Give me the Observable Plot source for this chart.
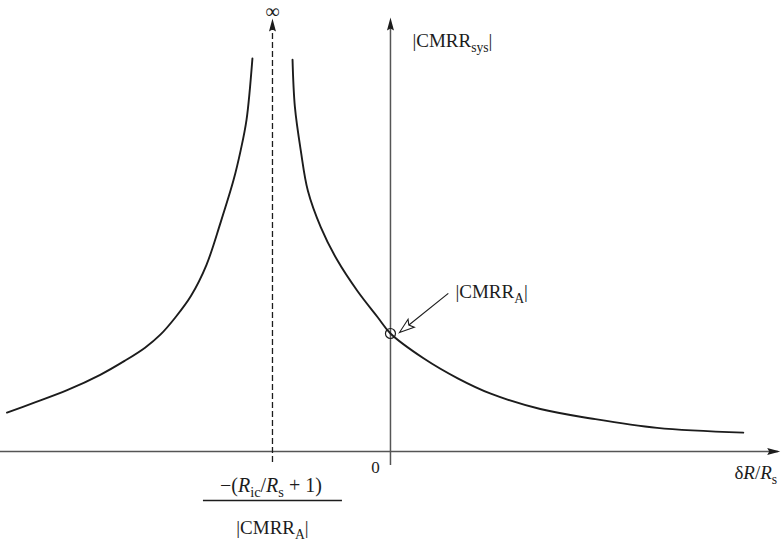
<!DOCTYPE html>
<html>
<head>
<meta charset="utf-8">
<script src="https://cdn.jsdelivr.net/npm/d3@7"></script>
<script src="https://cdn.jsdelivr.net/npm/@observablehq/plot@0.6"></script>
<style>
  html, body { margin: 0; padding: 0; background: #fff; overflow: hidden; }
</style>
</head>
<body>
<div id="chart"></div>
<script>
// Curve values: x = δR/R_s (asymptote at -1), y = |CMRR_sys| in units of |CMRR_A|
const leftX  = [-3.25, -3.03, -2.74, -2.46, -2.25, -2.08, -1.95, -1.82, -1.69, -1.56, -1.44, -1.33, -1.27, -1.22, -1.17];
const leftY  = [ 0.33,  0.41,  0.52,  0.65,  0.77,  0.88,  0.99,  1.14,  1.32,  1.58,  1.94,  2.30,  2.55,  2.81,  3.33];
const rightX = [-0.83, -0.81, -0.76, -0.70, -0.59, -0.45, -0.28, -0.11, 0.00, 0.28, 0.57, 0.85, 1.27, 1.70, 2.26, 2.99];
const rightY = [ 3.32,  2.92,  2.55,  2.21,  1.90,  1.62,  1.36,  1.14, 1.00, 0.79, 0.62, 0.49, 0.36, 0.28, 0.20, 0.16];

const asymptoteX = [-1];
const markedPoint = [{x: 0, y: 1}];

const labelInfinity = "∞";
const labelYAxis = "|CMRR{s:sys}|";
const labelPoint = "|CMRR{s:A}|";
const labelZero = "0";
const labelXAxis = "δ{i:R}/{i:R}{s:s}";
const labelNumerator = "−({i:R}{s:ic}/{i:R}{s:s} + 1)";
const labelDenominator = "|CMRR{s:A}|";

const left = leftX.map((x, i) => ({x, y: leftY[i]}));
const right = rightX.map((x, i) => ({x, y: rightY[i]}));

// narrow filled arrowhead, tip at the anchor, pointing up before rotation
const headSolid = {draw(ctx) { ctx.moveTo(0, 0); ctx.lineTo(-3.5, 13); ctx.lineTo(0, 11); ctx.lineTo(3.5, 13); ctx.closePath(); }};
const headOpen = {draw(ctx) { ctx.moveTo(0, 0); ctx.lineTo(-5, 15); ctx.lineTo(0, 12); ctx.lineTo(5, 15); ctx.closePath(); }};

const font = "Liberation Serif, Times New Roman, serif";
const axisColor = "#555";
const ink = "#1c1c1c";

const plot = Plot.plot({
  width: 781,
  height: 542,
  marginTop: 0, marginRight: 0, marginBottom: 0, marginLeft: 0,
  x: {domain: [-3.305, 3.314], axis: null},
  y: {domain: [-0.771, 3.822], axis: null},
  style: {fontFamily: font, background: "#fff", overflow: "hidden"},
  marks: [
    // horizontal axis
    Plot.ruleY([0], {x1: -3.305, x2: 3.29, stroke: axisColor, strokeWidth: 1.5}),
    Plot.dot([{x: 3.303, y: 0}], {x: "x", y: "y", symbol: headSolid, rotate: 90, fill: ink, stroke: null, r: 5}),
    // vertical axis
    Plot.ruleX([0], {y1: -0.119, y2: 3.60, stroke: axisColor, strokeWidth: 1.5}),
    Plot.dot([{x: 0, y: 3.678}], {x: "x", y: "y", symbol: headSolid, fill: ink, stroke: null, r: 5}),
    // asymptote
    Plot.ruleX(asymptoteX, {y1: -0.093, y2: 3.60, stroke: ink, strokeWidth: 1.3, strokeDasharray: "6,3"}),
    Plot.dot(asymptoteX.map(x => ({x, y: 3.669})), {x: "x", y: "y", symbol: headSolid, fill: ink, stroke: null, r: 5}),
    // curve
    Plot.line(left, {x: "x", y: "y", curve: "catmull-rom", stroke: ink, strokeWidth: 1.9}),
    Plot.line(right, {x: "x", y: "y", curve: "catmull-rom", stroke: ink, strokeWidth: 1.9}),
    // marked point
    Plot.dot(markedPoint, {x: "x", y: "y", r: 5, stroke: ink, strokeWidth: 1.2, fill: "none"}),
    // annotation arrow
    Plot.link([{x1: 0.49, y1: 1.34, x2: 0.085, y2: 1.015}], {x1: "x1", y1: "y1", x2: "x2", y2: "y2", stroke: ink, strokeWidth: 1.2}),
    Plot.dot([{x: 0.076, y: 1.008}], {x: "x", y: "y", symbol: headOpen, rotate: -128.5, fill: "#fff", stroke: ink, strokeWidth: 1.1, r: 5}),
    // fraction bar
    Plot.ruleY([-0.415], {x1: -1.585, x2: -0.407, stroke: ink, strokeWidth: 1.3}),
    // labels
    Plot.text([labelInfinity], {x: -1, y: 3.725, text: d => d, fontSize: 20, fill: ink}),
    Plot.text([labelYAxis], {x: 0.186, y: 3.483, text: d => d, textAnchor: "start", fontSize: 19, fill: ink}),
    Plot.text([labelPoint], {x: 0.551, y: 1.356, text: d => d, textAnchor: "start", fontSize: 19, fill: ink}),
    Plot.text([labelZero], {x: -0.127, y: -0.136, text: d => d, fontSize: 17, fill: ink}),
    Plot.text([labelXAxis], {x: 2.915, y: -0.178, text: d => d, textAnchor: "start", fontSize: 19, fill: ink}),
    Plot.text([labelNumerator], {x: -1.013, y: -0.288, text: d => d, fontSize: 20, fill: ink}),
    Plot.text([labelDenominator], {x: -1, y: -0.650, text: d => d, fontSize: 19, fill: ink})
  ]
});

// turn {i:..} (italic) and {s:..} (subscript) markup into tspans
plot.querySelectorAll("text").forEach(t => {
  const s = t.textContent;
  if (!/\{[is]:/.test(s)) return;
  t.textContent = "";
  const re = /\{([is]):([^}]*)\}/g;
  let last = 0, m, lowered = false;
  const add = (str, kind) => {
    if (!str) return;
    const ts = document.createElementNS("http://www.w3.org/2000/svg", "tspan");
    ts.textContent = str;
    if (kind === "i") ts.setAttribute("font-style", "italic");
    if (kind === "s") {
      ts.setAttribute("font-size", "0.72em");
      if (!lowered) { ts.setAttribute("dy", "5"); lowered = true; }
    } else if (lowered) {
      ts.setAttribute("dy", "-5"); lowered = false;
    }
    t.appendChild(ts);
  };
  while ((m = re.exec(s))) {
    add(s.slice(last, m.index), "n");
    add(m[2], m[1]);
    last = re.lastIndex;
  }
  add(s.slice(last), "n");
});

document.getElementById("chart").appendChild(plot);
</script>
</body>
</html>
